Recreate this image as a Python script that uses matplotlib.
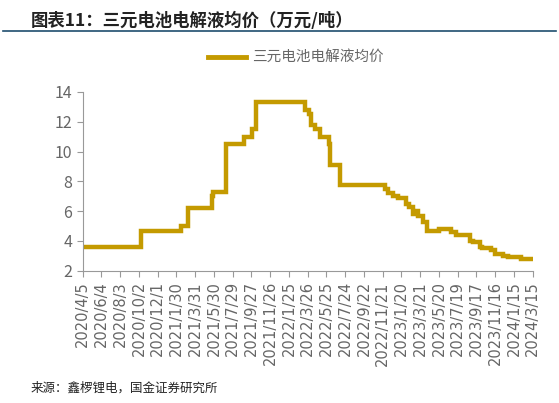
import pandas as pd
import matplotlib.pyplot as plt
import matplotlib.lines as mlines

plt.rcParams['font.family'] = ['Noto Sans CJK SC', 'DejaVu Sans']

# 数据：距 2020/4/5 的天数 与 价格（万元/吨），阶梯变化
start = pd.Timestamp('2020-04-05')
step_days = [0, 186, 314, 338, 413, 418, 423, 458, 517, 541, 555, 711, 725, 729,
             743, 759, 787, 790, 823, 967, 977, 994, 1010, 1035, 1043, 1058, 1060,
             1074, 1090, 1101, 1111, 1140, 1150, 1180, 1193, 1210, 1240, 1250, 1270,
             1278, 1305, 1320, 1345, 1361, 1401, 1440]
step_vals = [3.6, 4.7, 5.0, 6.2, 7.0, 7.3, 7.3, 10.5, 11.0, 11.5, 13.3, 12.8, 12.5,
             11.8, 11.5, 11.0, 10.5, 9.1, 7.75, 7.5, 7.2, 7.0, 6.9, 6.5, 6.3, 5.8,
             6.0, 5.7, 5.3, 4.7, 4.7, 4.8, 4.8, 4.6, 4.4, 4.4, 4.0, 3.9, 3.6, 3.5,
             3.4, 3.1, 3.0, 2.9, 2.8, 2.8]
tick_labels = ['2020/4/5', '2020/6/4', '2020/8/3', '2020/10/2', '2020/12/1', '2021/1/30',
               '2021/3/31', '2021/5/30', '2021/7/29', '2021/9/27', '2021/11/26', '2022/1/25',
               '2022/3/26', '2022/5/25', '2022/7/24', '2022/9/22', '2022/11/21', '2023/1/20',
               '2023/3/21', '2023/5/20', '2023/7/19', '2023/9/17', '2023/11/16', '2024/1/15',
               '2024/3/15']

dates = [start + pd.Timedelta(days=d) for d in step_days]
ticks = [pd.Timestamp(t.replace('/', '-')) for t in tick_labels]

gold = '#C49A00'
gray = '#666666'

fig = plt.figure(figsize=(5.59, 4.03), dpi=100)
ax = fig.add_axes([0.148, 0.328, 0.805, 0.444])
ax.plot(dates, step_vals, drawstyle='steps-post', color=gold, lw=3.2, solid_joinstyle='miter')

ax.set_xlim(ticks[0], ticks[-1])
ax.set_ylim(2, 14)
ax.set_yticks(range(2, 15, 2))
ax.set_xticks(ticks)
ax.set_xticklabels(tick_labels, rotation=90, fontsize=10.5, color=gray, family='DejaVu Sans')
for lab in ax.get_yticklabels():
    lab.set_fontsize(11.5)
    lab.set_color(gray)
ax.tick_params(axis='x', length=4, color='#999999')
ax.tick_params(axis='y', length=4, color='#999999')
for s in ['top', 'right']:
    ax.spines[s].set_visible(False)
for s in ['left', 'bottom']:
    ax.spines[s].set_color('#999999')

# 标题、分隔线、图例、来源
fig.text(0.055, 0.948, '图表11：三元电池电解液均价（万元/吨）', fontsize=12.5,
         fontweight='bold', style='italic', color='#222222', va='center')
fig.add_artist(mlines.Line2D([0.005, 0.995], [0.922, 0.922], color='#1F4E6E', lw=1.2))
fig.add_artist(mlines.Line2D([0.372, 0.44], [0.858, 0.858], color=gold, lw=3.5))
fig.text(0.45, 0.858, '三元电池电解液均价', fontsize=10.5, color=gray, va='center')
fig.text(0.055, 0.037, '来源：鑫椤锂电，国金证券研究所', fontsize=9, color='#222222', va='center')

fig.savefig('out.png', dpi=100)
